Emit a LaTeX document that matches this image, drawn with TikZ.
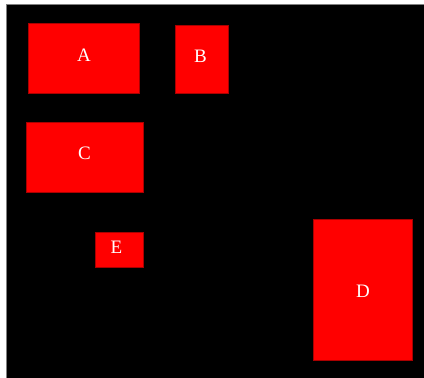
\documentclass[tikz,border=0pt]{standalone}
\usepackage{fontspec}
\setmainfont{Liberation Serif}
\begin{document}
\begin{tikzpicture}[x=1pt,y=-1pt,
  blk/.style={fill=red, draw={rgb,255:red,170;green,0;blue,0}, line width=0.6pt},
  lbl/.style={text=white, font=\fontsize{19}{19}\selectfont, inner sep=0pt}]
\useasboundingbox (0,0) rectangle (424,378);
% page frame and black canvas
\fill[white] (0,0) rectangle (424,378);
\fill[black!50] (6,4) rectangle (424,378);
\fill[black] (7,5) rectangle (424,378);
% boxes
\node[blk, minimum width=111pt, minimum height=70pt] (A) at (83.5,58) {};
\node[blk, minimum width=53pt, minimum height=68pt] (B) at (201.5,59) {};
\node[blk, minimum width=117pt, minimum height=70pt] (C) at (84.5,157) {};
\node[blk, minimum width=99pt, minimum height=141pt] (D) at (362.5,289.5) {};
\node[blk, minimum width=48pt, minimum height=35pt] (E) at (119,249.5) {};
% labels
\node[lbl] (tA) at ([shift={(0.5,-3)}]A.center) {A};
\node[lbl] (tB) at ([shift={(-1,-3)}]B.center) {B};
\node[lbl] (tC) at ([shift={(0,-4)}]C.center) {C};
\node[lbl] (tD) at ([shift={(0.5,1.5)}]D.center) {D};
\node[lbl] (tE) at ([shift={(-2.5,-2)}]E.center) {E};
\end{tikzpicture}
\end{document}
